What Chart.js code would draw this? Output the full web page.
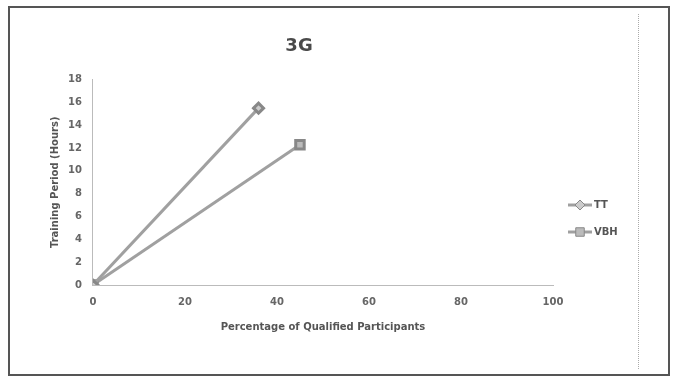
<!DOCTYPE html>
<html>
<head>
<meta charset="utf-8">
<script src="https://cdn.jsdelivr.net/npm/chart.js@4.4.0/dist/chart.umd.min.js"></script>
<style>
  body { margin: 0; background: #fff; }
  #wrap { position: relative; width: 679px; height: 385px; }
  #frame { position: absolute; left: 8px; top: 6px; width: 662px; height: 370px; border: 2px solid #555; box-sizing: border-box; pointer-events: none; }
  #rule { position: absolute; left: 638px; top: 14px; height: 355px; border-left: 1px dotted #aaa; }
</style>
</head>
<body>
<div id="wrap">
  <canvas id="c" width="679" height="385"></canvas>
  <div id="frame"></div>
  <div id="rule"></div>
</div>
<script>
// values
const ttX = [0, 36];
const ttY = [0, 15.5];
const vbhX = [0, 45];
const vbhY = [0, 12.3];
const seriesNames = ['TT', 'VBH'];

const toPoints = (xs, ys) => xs.map((x, i) => ({ x: x, y: ys[i] }));

// legend drawn by hand on the right, line + marker + label like the original
const sideLegend = {
    id: 'sideLegend',
    afterDraw(chart) {
        const c = chart.ctx;
        const x0 = chart.chartArea.right + 15;
        let y = 205;
        chart.data.datasets.forEach(ds => {
            c.save();
            c.strokeStyle = ds.borderColor;
            c.lineWidth = 3;
            c.beginPath();
            c.moveTo(x0, y);
            c.lineTo(x0 + 24, y);
            c.stroke();
            c.fillStyle = ds.pointBackgroundColor;
            c.strokeStyle = ds.pointBorderColor;
            c.lineWidth = 1;
            Chart.helpers.drawPoint(c, {
                pointStyle: ds.pointStyle,
                radius: ds.pointRadius,
                borderWidth: 1
            }, x0 + 12, y);
            c.fillStyle = '#555';
            c.font = 'bold 10px "DejaVu Sans"';
            c.textBaseline = 'middle';
            c.fillText(ds.label, x0 + 26, y);
            c.restore();
            y += 27;
        });
    }
};

const ctx = document.getElementById('c').getContext('2d');
new Chart(ctx, {
    type: 'line',
    data: {
        datasets: [{
            label: seriesNames[0],
            data: toPoints(ttX, ttY),
            borderColor: '#a0a0a0',
            backgroundColor: '#bbb',
            borderWidth: 3,
            pointStyle: 'rectRot',
            pointRadius: 5,
            pointBorderColor: '#888',
            pointBackgroundColor: '#ccc'
        }, {
            label: seriesNames[1],
            data: toPoints(vbhX, vbhY),
            borderColor: '#a0a0a0',
            backgroundColor: '#bbb',
            borderWidth: 3,
            pointStyle: 'rect',
            pointRadius: 6,
            pointBorderColor: '#888',
            pointBackgroundColor: '#bbb'
        }]
    },
    options: {
        responsive: false,
        animation: false,
        layout: { padding: { left: 45, right: 126, top: 32, bottom: 52 } },
        plugins: {
            title: {
                display: true,
                text: '3G',
                font: { family: 'DejaVu Sans', size: 18, weight: 'bold' },
                color: '#4a4a4a',
                padding: { top: 4, bottom: 22 }
            },
            legend: { display: false },
            tooltip: { enabled: false }
        },
        scales: {
            x: {
                type: 'linear',
                min: 0,
                max: 100,
                ticks: { stepSize: 20, color: '#666', font: { family: 'DejaVu Sans', size: 10, weight: 'bold' } },
                grid: { display: false },
                border: { color: '#bbb', dash: [2, 3] },
                title: {
                    display: true,
                    text: 'Percentage of Qualified Participants',
                    color: '#555',
                    font: { family: 'DejaVu Sans', size: 10, weight: 'bold' },
                    padding: { top: 10, bottom: 0 }
                }
            },
            y: {
                min: 0,
                max: 18,
                ticks: { stepSize: 2, color: '#666', font: { family: 'DejaVu Sans', size: 10, weight: 'bold' } },
                grid: { display: false },
                border: { color: '#bbb', dash: [2, 3] },
                title: {
                    display: true,
                    text: 'Training Period (Hours)',
                    color: '#555',
                    font: { family: 'DejaVu Sans', size: 10, weight: 'bold' }
                }
            }
        }
    },
    plugins: [sideLegend]
});
</script>
</body>
</html>
